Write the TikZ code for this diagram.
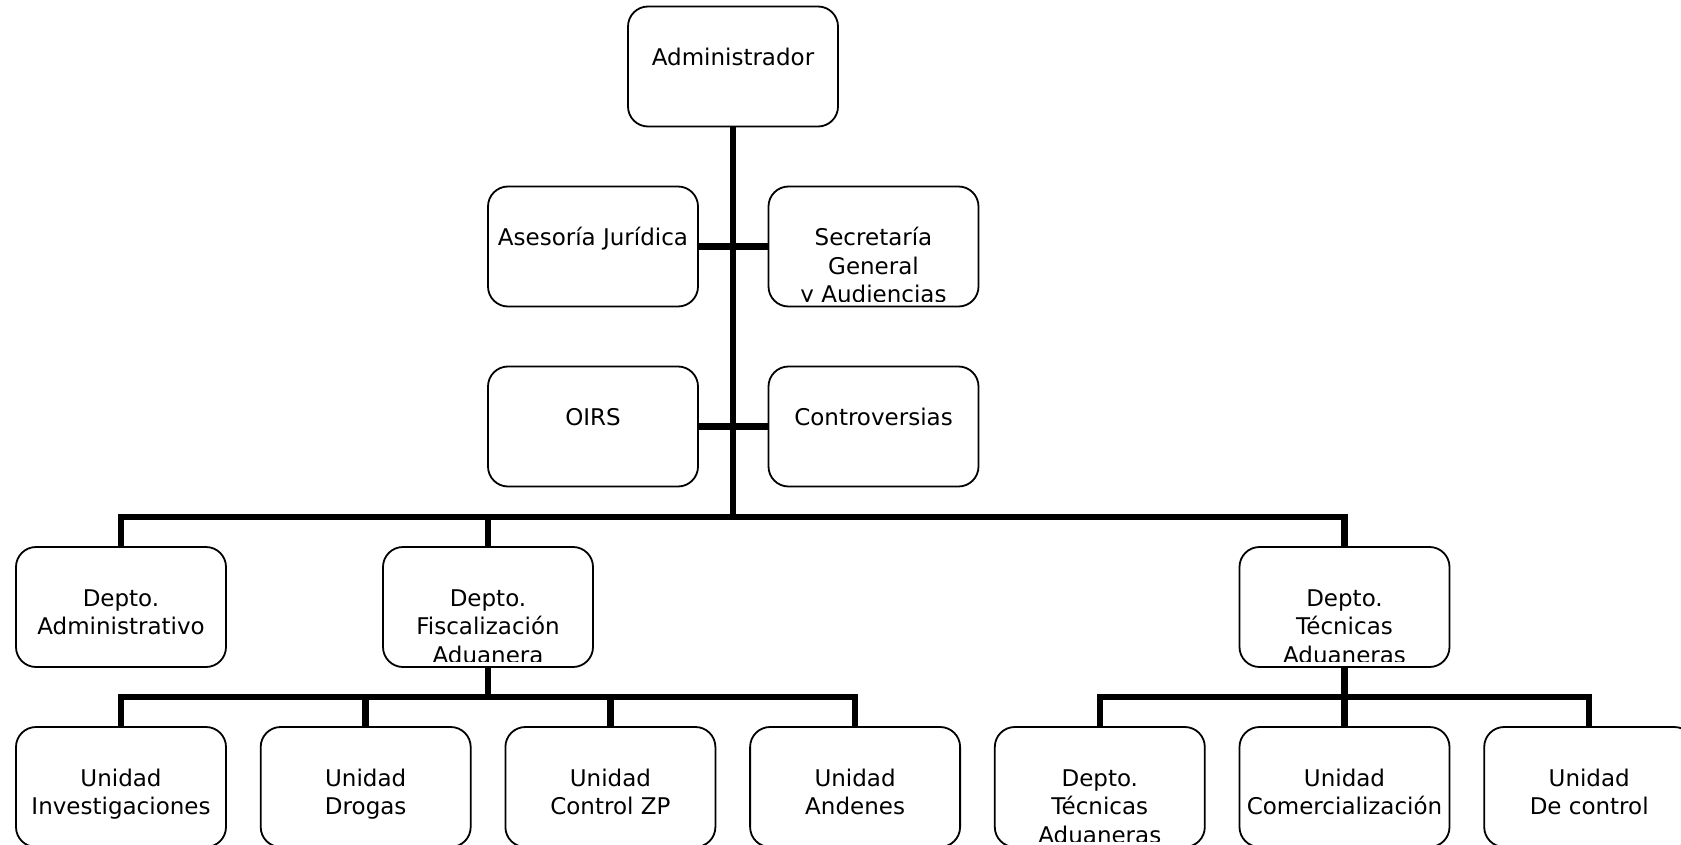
\documentclass[tikz,border=0pt]{standalone}
\usepackage{fontspec}
\setmainfont{DejaVu Sans}
% label of a box, set from its top edge and clipped just above its bottom edge;
% the invisible rule fixes the height of the first line
\newcommand\boxtext[2]{%
  \begin{scope}
    \clip ([yshift=6pt]#1.south west) rectangle (#1.north east);
    \node[lbl] at ([yshift=-40pt]#1.north) {\rule{0pt}{20pt}#2};
  \end{scope}}
\begin{document}
\begin{tikzpicture}[x=1pt,y=-1pt,
  box/.style={draw,line width=1.8pt,rounded corners=20pt,minimum width=210pt,
    minimum height=120pt,inner sep=0pt,fill=white},
  conn/.style={line width=6.5pt},
  lbl/.style={align=center,font=\fontsize{23pt}{28.5pt}\selectfont,inner sep=0pt,anchor=north}]
\useasboundingbox (0,0) rectangle (1681,845);

% boxes
\node[box] (adm)  at (733,66.5) {};
\node[box] (ase)  at (593,246.5) {};
\node[box] (sec)  at (873.5,246.5) {};
\node[box] (oirs) at (593,426.5) {};
\node[box] (con)  at (873.5,426.5) {};
\node[box] (dadm) at (121,607) {};
\node[box] (dfis) at (488,607) {};
\node[box] (dtec) at (1344.5,607) {};
\node[box] (u1) at (121,787) {};
\node[box] (u2) at (365.7,787) {};
\node[box] (u3) at (610.4,787) {};
\node[box] (u4) at (855.1,787) {};
\node[box] (t1) at (1099.8,787) {};
\node[box] (t2) at (1344.5,787) {};
\node[box] (t3) at (1589.2,787) {};

% connectors
\coordinate (j1) at (733,517);
\coordinate (j2) at (488,697);
\coordinate (j3) at (1344.5,697);
\draw[conn] (adm.south) -- (j1);
\draw[conn] (ase.east) -- (sec.west);
\draw[conn] (oirs.east) -- (con.west);
\draw[conn] (dadm.north) -- (dadm.north |- j1) -- (dtec.north |- j1) -- (dtec.north);
\draw[conn] (dfis.north) -- (dfis.north |- j1);
\draw[conn] (dfis.south) -- (j2);
\draw[conn] (u1.north) -- (u1.north |- j2) -- (u4.north |- j2) -- (u4.north);
\draw[conn] (u2.north) -- (u2.north |- j2);
\draw[conn] (u3.north) -- (u3.north |- j2);
\draw[conn] (dtec.south) -- (j3);
\draw[conn] (t1.north) -- (t1.north |- j3) -- (t3.north |- j3) -- (t3.north);
\draw[conn] (t2.north) -- (t2.north |- j3);

% labels
\boxtext{adm}{Administrador}
\boxtext{ase}{Asesoría Jurídica}
\boxtext{sec}{Secretaría\\General\\y Audiencias}
\boxtext{oirs}{OIRS}
\boxtext{con}{Controversias}
\boxtext{dadm}{Depto.\\Administrativo}
\boxtext{dfis}{Depto.\\Fiscalización\\Aduanera}
\boxtext{dtec}{Depto.\\Técnicas\\Aduaneras}
\boxtext{u1}{Unidad\\Investigaciones}
\boxtext{u2}{Unidad\\Drogas}
\boxtext{u3}{Unidad\\Control ZP}
\boxtext{u4}{Unidad\\Andenes}
\boxtext{t1}{Depto.\\Técnicas\\Aduaneras}
\boxtext{t2}{Unidad\\Comercialización}
\boxtext{t3}{Unidad\\De control}
\end{tikzpicture}
\end{document}
